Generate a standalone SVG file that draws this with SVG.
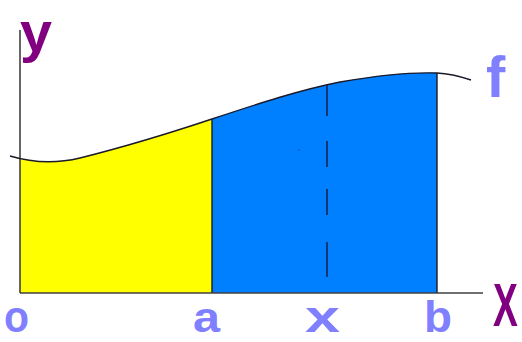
<svg xmlns="http://www.w3.org/2000/svg" width="522" height="342" viewBox="0 0 522 342">
<style>
.lbl{font-family:"Liberation Sans",Arial,sans-serif;font-weight:bold;}
.dark{fill:#800080;}
.light{fill:#8080ff;}
.edge{stroke:#1a1a2a;stroke-width:1.4;fill:none;}
.axis{stroke:#404040;stroke-width:1.6;fill:none;}
</style>
<defs>
<clipPath id="under">
<path d="M10,156 C30,162 55,164 80,158 C120,148 170,133 212,119 C260,103 300,90 340,82 C380,75 410,72 437,73 C450,73.5 462,77 471,80 L471,293 L10,293 Z"/>
</clipPath>
</defs>
<rect width="522" height="342" fill="#ffffff"/>
<g id="regions" clip-path="url(#under)">
<rect x="20" y="0" width="192" height="293" fill="#ffff00"/>
<rect x="212" y="0" width="225" height="293" fill="#0080ff"/>
</g>
<g id="bounds">
<line class="edge" x1="212" y1="119" x2="212" y2="293"/>
<line class="edge" x1="437" y1="73" x2="437" y2="293"/>
<line x1="327" y1="85" x2="327" y2="278" stroke="#1a1a3a" stroke-width="1.4" stroke-dasharray="31,25,26,22,26,27,35"/>
<rect x="298.5" y="149.5" width="1" height="1" fill="#1a1a3a"/>
</g>
<g id="axes">
<line class="axis" x1="20" y1="30" x2="20" y2="293"/>
<line class="axis" x1="20" y1="293" x2="483" y2="293"/>
</g>
<g id="curve">
<path class="edge" d="M10,156 C30,162 55,164 80,158 C120,148 170,133 212,119 C260,103 300,90 340,82 C380,75 410,72 437,73 C450,73.5 462,77 471,80"/>
</g>
<g id="labels">
<text class="lbl dark" x="20" y="51" font-size="56" textLength="32" lengthAdjust="spacingAndGlyphs">y</text>
<text class="lbl dark" x="0" y="0" font-size="62" transform="translate(493,326) scale(0.6,1)">X</text>
<text class="lbl light" x="486" y="97" font-size="58">f</text>
<text class="lbl light" x="4" y="332" font-size="44" textLength="25" lengthAdjust="spacingAndGlyphs">o</text>
<text class="lbl light" x="193" y="332" font-size="42" textLength="27" lengthAdjust="spacingAndGlyphs">a</text>
<text class="lbl light" x="305" y="332" font-size="44" textLength="35" lengthAdjust="spacingAndGlyphs">x</text>
<text class="lbl light" x="424" y="332" font-size="44" textLength="28" lengthAdjust="spacingAndGlyphs">b</text>
</g>
</svg>
